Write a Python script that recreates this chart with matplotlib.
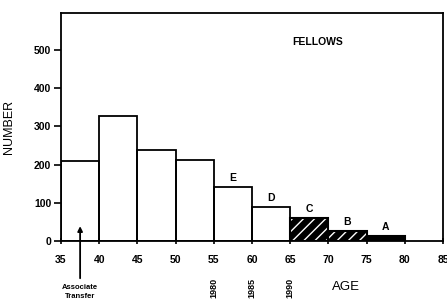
import matplotlib
matplotlib.use("Agg")
import matplotlib.pyplot as plt

age_edges = [35, 40, 45, 50, 55, 60, 65, 70, 75]
counts = [209, 327, 238, 212, 142, 89, 60, 27, 13]
bar_width = 5
hatched = [False, False, False, False, False, False, True, True, False]
solid = [False, False, False, False, False, False, False, False, True]
group_labels = {"E": 57.5, "D": 62.5, "C": 67.5, "B": 72.5, "A": 77.5}
xticks = [35, 40, 45, 50, 55, 60, 65, 70, 75, 80, 85]
yticks = [0, 100, 200, 300, 400, 500]
year_labels = {55: "1980", 60: "1985", 65: "1990"}

plt.rcParams['font.family'] = ['Liberation Sans', 'DejaVu Sans']
fig = plt.figure(figsize=(4.47, 3.05), dpi=100)
ax = fig.add_axes([0.1365, 0.21, 0.8545, 0.747])

for x0, c, h, s in zip(age_edges, counts, hatched, solid):
    if h:
        ax.bar(x0, c, width=bar_width, align='edge', color='black',
               edgecolor='white', hatch='///', linewidth=0)
        ax.bar(x0, c, width=bar_width, align='edge', fill=False,
               edgecolor='black', linewidth=1.5)
    elif s:
        ax.bar(x0, c, width=bar_width, align='edge', color='black',
               edgecolor='black', linewidth=1.5)
    else:
        ax.bar(x0, c, width=bar_width, align='edge', fill=False,
               edgecolor='black', linewidth=1.3)

for lab, xc in group_labels.items():
    idx = age_edges.index(int(xc - 2.5))
    ax.text(xc, counts[idx] + 10, lab, ha='center', va='bottom',
            fontsize=7.5, fontweight='bold')

ax.set_xlim(35, 85)
ax.set_ylim(0, 597)
ax.set_xticks(xticks)
ax.set_xticklabels([str(t) for t in xticks], fontsize=7.5, fontweight='bold')
ax.set_yticks(yticks)
ax.set_yticklabels([str(t) for t in yticks], fontsize=7.5, fontweight='bold')
ax.tick_params(axis='y', direction='out', length=5, width=1.2, pad=2)
ax.tick_params(axis='x', direction='inout', length=4, width=1.2, pad=8)
for sp in ax.spines.values():
    sp.set_linewidth(1.3)

ax.set_ylabel("NUMBER", fontsize=9, labelpad=14)
ax.text(0.745, -0.2, "AGE", transform=ax.transAxes, fontsize=9.5,
        ha='center', va='center')
ax.text(0.672, 0.873, "FELLOWS", transform=ax.transAxes, fontsize=7.5,
        fontweight='bold', ha='center', va='center')

for xv, yr in year_labels.items():
    ax.text(xv, -122, yr, rotation=90, ha='center', va='center',
            fontsize=6.5, fontweight='bold', clip_on=False)

ax.annotate("", xy=(37.5, 46), xytext=(37.5, -105),
            arrowprops=dict(arrowstyle='-|>', color='black', lw=1.3,
                            mutation_scale=7), annotation_clip=False)
ax.text(37.5, -135, "Associate\nTransfer", ha='center', va='center',
        fontsize=5.5, fontweight='bold', linespacing=1.4, clip_on=False)

fig.savefig("out.png", dpi=100)
